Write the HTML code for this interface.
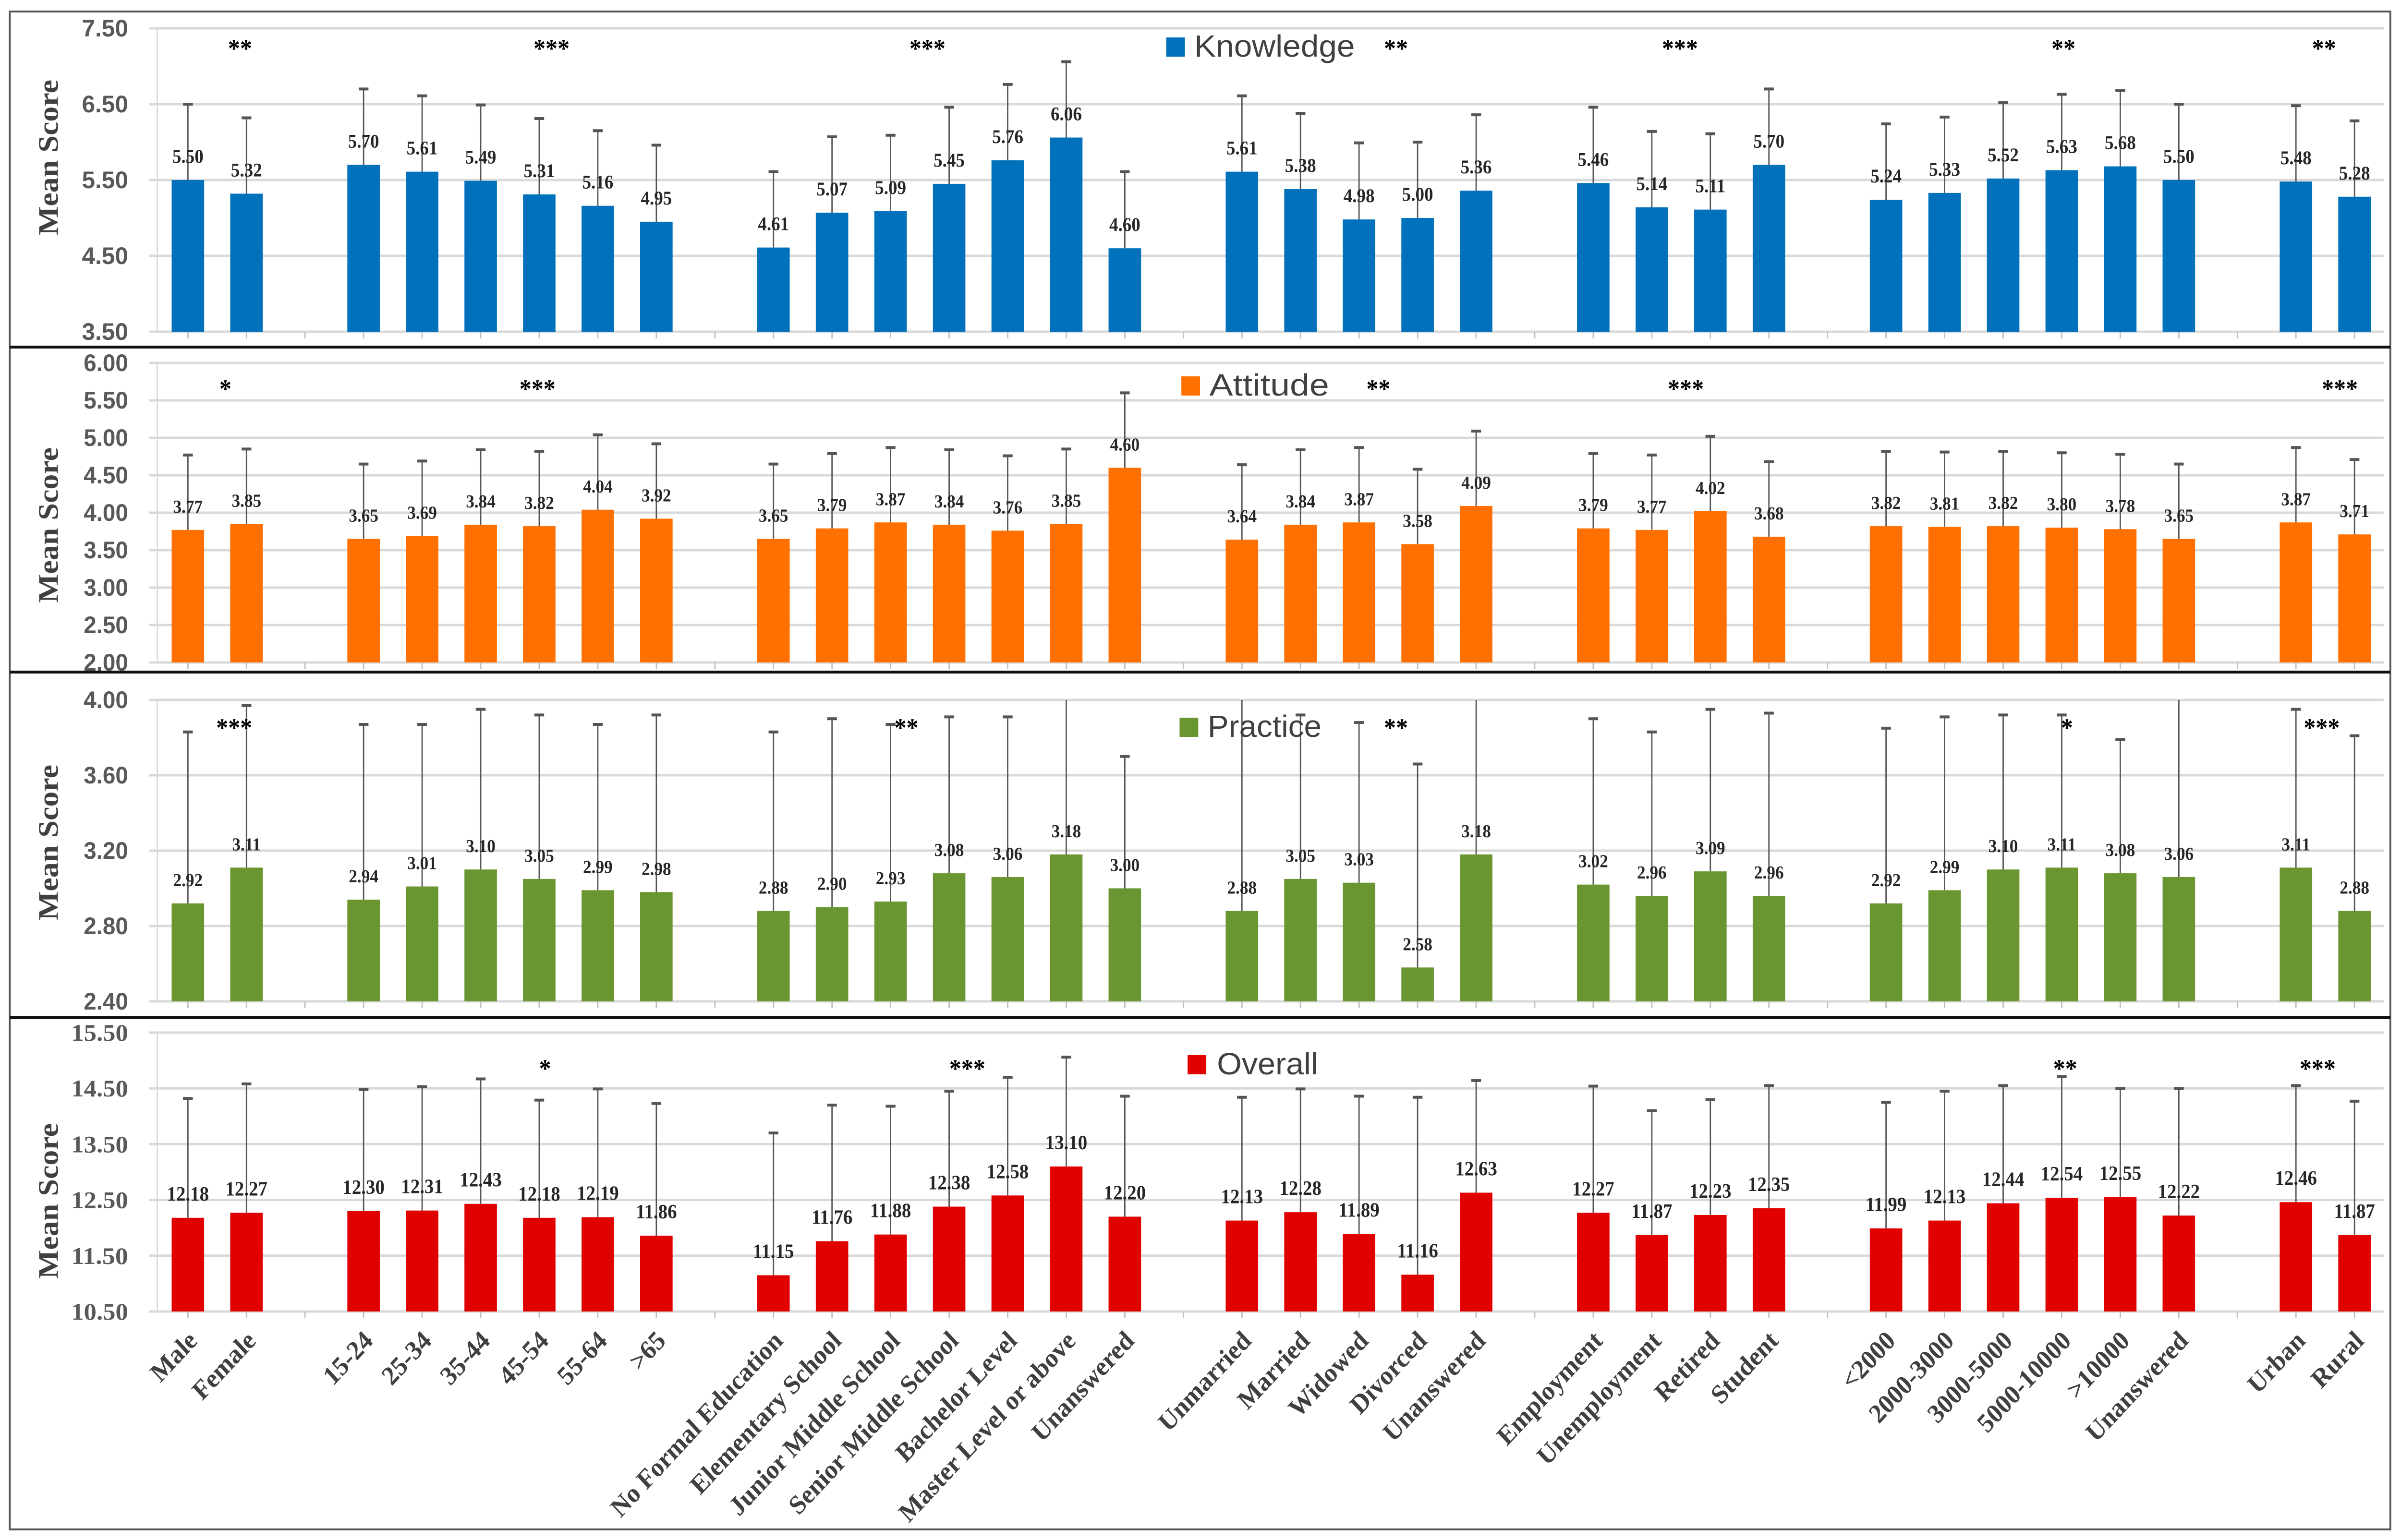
<!DOCTYPE html>
<html><head><meta charset="utf-8"><style>
html,body{margin:0;padding:0;background:#fff;width:100%;height:100%;overflow:hidden;}
svg{display:block;width:100vw;height:100vh;position:fixed;left:0;top:0;}
</style></head><body>
<svg id="chart" xmlns="http://www.w3.org/2000/svg" viewBox="0 0 5396 3208" preserveAspectRatio="none">
<rect x="0" y="0" width="5396" height="3208" fill="#fff"/>
<g id="root"></g>
</svg>
<script>
const groups = [
  ["Male","Female"],
  ["15-24","25-34","35-44","45-54","55-64",">65"],
  ["No Formal Education","Elementary School","Junior Middle School","Senior Middle School","Bachelor Level","Master Level or above","Unanswered"],
  ["Unmarried","Married","Widowed","Divorced","Unanswered"],
  ["Employment","Unemployment","Retired","Student"],
  ["<2000","2000-3000","3000-5000","5000-10000",">10000","Unanswered"],
  ["Urban","Rural"]
];
const knowledgeMeans = [5.50,5.32, 5.70,5.61,5.49,5.31,5.16,4.95, 4.61,5.07,5.09,5.45,5.76,6.06,4.60, 5.61,5.38,4.98,5.00,5.36, 5.46,5.14,5.11,5.70, 5.24,5.33,5.52,5.63,5.68,5.50, 5.48,5.28];
const knowledgeSd = [1.00,1.00, 1.00,1.00,1.00,1.00,0.99,1.01, 1.00,1.00,1.00,1.01,1.00,1.00,1.01, 1.00,1.00,1.01,1.00,1.00, 1.00,1.00,1.00,1.00, 1.00,1.00,1.00,1.00,1.00,1.00, 1.00,1.00];
const attitudeMeans = [3.77,3.85, 3.65,3.69,3.84,3.82,4.04,3.92, 3.65,3.79,3.87,3.84,3.76,3.85,4.60, 3.64,3.84,3.87,3.58,4.09, 3.79,3.77,4.02,3.68, 3.82,3.81,3.82,3.80,3.78,3.65, 3.87,3.71];
const attitudeSd = [1.00,1.00, 1.00,1.00,1.00,1.00,1.00,1.00, 1.00,1.00,1.00,1.00,1.00,1.00,1.00, 1.00,1.00,1.00,1.00,1.00, 1.00,1.00,1.00,1.00, 1.00,1.00,1.00,1.00,1.00,1.00, 1.00,1.00];
const practiceMeans = [2.92,3.11, 2.94,3.01,3.10,3.05,2.99,2.98, 2.88,2.90,2.93,3.08,3.06,3.18,3.00, 2.88,3.05,3.03,2.58,3.18, 3.02,2.96,3.09,2.96, 2.92,2.99,3.10,3.11,3.08,3.06, 3.11,2.88];
const practiceSd = [0.91,0.86, 0.93,0.86,0.85,0.87,0.88,0.94, 0.95,1.00,0.94,0.83,0.85,1.02,0.70, 1.22,0.87,0.85,1.08,1.02, 0.88,0.87,0.86,0.97, 0.93,0.92,0.82,0.81,0.71,1.04, 0.84,0.93];
const overallMeans = [12.18,12.27, 12.30,12.31,12.43,12.18,12.19,11.86, 11.15,11.76,11.88,12.38,12.58,13.10,12.20, 12.13,12.28,11.89,11.16,12.63, 12.27,11.87,12.23,12.35, 11.99,12.13,12.44,12.54,12.55,12.22, 12.46,11.87];
const overallSd = [2.14,2.31, 2.18,2.22,2.24,2.11,2.30,2.37, 2.55,2.44,2.30,2.07,2.12,1.96,2.16, 2.21,2.21,2.47,3.18,2.01, 2.27,2.23,2.07,2.20, 2.26,2.32,2.11,2.17,1.95,2.28, 2.09,2.40];
const knowledgeTicks = ["3.50","4.50","5.50","6.50","7.50"];
const attitudeTicks = ["2.00","2.50","3.00","3.50","4.00","4.50","5.00","5.50","6.00"];
const practiceTicks = ["2.40","2.80","3.20","3.60","4.00"];
const overallTicks = ["10.50","11.50","12.50","13.50","14.50","15.50"];
const knowledgeStars = [[0.89,"**"],[6.21,"***"],[12.63,"***"],[20.63,"**"],[25.48,"***"],[32.03,"**"],[36.48,"**"]];
const attitudeStars = [[0.64,"*"],[5.97,"***"],[20.33,"**"],[25.58,"***"],[36.75,"***"]];
const practiceStars = [[0.79,"***"],[12.27,"**"],[20.63,"**"],[32.09,"*"],[36.44,"***"]];
const overallStars = [[6.1,"*"],[13.31,"***"],[32.06,"**"],[36.37,"***"]];

const NS = "http://www.w3.org/2000/svg";
const root = document.getElementById('root');
function mk(tag, attrs, parent, text){
  const e = document.createElementNS(NS, tag);
  for (const k in attrs) e.setAttribute(k, attrs[k]);
  if (text !== undefined) e.textContent = text;
  (parent || root).appendChild(e);
  return e;
}
const slots = [];
let s = 0;
groups.forEach((g, gi) => { g.forEach(c => { slots.push({slot: s, label: c}); s++; }); if (gi < groups.length - 1) s++; });
const NSLOT = s;
const X0 = 356.5, SW = 131.6;
const xOf = i => X0 + (i + 0.5) * SW;

const panels = [
  {name:"knowledge", title:"Knowledge", color:"#0071BA", means:knowledgeMeans, sd:knowledgeSd, ticks:knowledgeTicks, stars:knowledgeStars,
   top:59, bot:691, tickFont:"Liberation Sans", tickW:104, legend:[2621,78,2684,3045], starY:[97], titleY:328, labSize:40},
  {name:"attitude", title:"Attitude", color:"#FF7000", means:attitudeMeans, sd:attitudeSd, ticks:attitudeTicks, stars:attitudeStars,
   top:756, bot:1380, tickFont:"Liberation Sans", tickW:100, legend:[2655,784,2718,2987], starY:[806], titleY:1094, labSize:38},
  {name:"practice", title:"Practice", color:"#6A9632", means:practiceMeans, sd:practiceSd, ticks:practiceTicks, stars:practiceStars,
   top:1458, bot:2086, tickFont:"Liberation Sans", tickW:100, legend:[2651,1495,2714,2970], starY:[1512], titleY:1755, labSize:38},
  {name:"overall", title:"Overall", color:"#E00000", means:overallMeans, sd:overallSd, ticks:overallTicks, stars:overallStars,
   top:2151, bot:2732, tickFont:"Liberation Serif", tickW:128, legend:[2669,2198,2735,2962], starY:[2222], titleY:2502, labSize:42}
];

mk('rect',{x:22,y:24,width:5350,height:3162,fill:'none',stroke:'#555','stroke-width':4,});
[723,1400,2120].forEach((y,i)=>{
  const l = mk('line',{x1:22,y1:y,x2:5372,y2:y,stroke:'#111','stroke-width':6});
  
  
});

panels.forEach((p, pi) => {
  const g = mk('g',{});
  
  
  const vmin = parseFloat(p.ticks[0]), vmax = parseFloat(p.ticks[p.ticks.length-1]);
  const yOf = v => p.bot - (v - vmin) / (vmax - vmin) * (p.bot - p.top);
  const cid = 'clip' + pi;
  const cp = mk('clipPath',{id:cid}, g);
  mk('rect',{x:X0,y:p.top,width:NSLOT*SW,height:p.bot-p.top}, cp);
  const pb = mk('line',{x1:X0-3,y1:p.top,x2:X0-3,y2:p.bot,stroke:'#d9d9d9','stroke-width':3}, g);
  
  
  p.ticks.forEach(t => {
    const v = parseFloat(t), y = yOf(v);
    const gl = mk('line',{x1:X0-22,y1:y,x2:X0+NSLOT*SW,y2:y,stroke:'#d9d9d9','stroke-width':5}, g);
    
    
    const tl = mk('text',{x:288,y:y+17,'text-anchor':'end','font-family':p.tickFont+', sans-serif','font-size':50,'font-weight':'bold',fill:'#595959',textLength:p.tickW,lengthAdjust:'spacingAndGlyphs'}, g, t);
    
    
  });
  for (let i = 0; i < NSLOT; i++) {
    const tk = mk('line',{x1:xOf(i),y1:p.bot,x2:xOf(i),y2:p.bot+14,stroke:'#bfbfbf','stroke-width':3}, g);
    
    
  }
  slots.forEach((sl, i) => {
    const m = p.means[i], cx = xOf(sl.slot), yt = yOf(m);
    const b = mk('rect',{x:cx-36.5,y:yt,width:73,height:p.bot-yt,fill:p.color}, g);
    
    
    const ye = yOf(m + p.sd[i]);
    const eg = mk('g',{'clip-path':'url(#'+cid+')'}, g);
    
    
    mk('line',{x1:cx,y1:yt,x2:cx,y2:ye,stroke:'#555','stroke-width':3}, eg);
    mk('line',{x1:cx-11,y1:ye,x2:cx+11,y2:ye,stroke:'#555','stroke-width':6}, eg);
    const vl = mk('text',{x:cx,y:yt-36,'text-anchor':'middle','font-family':'Liberation Serif, serif','font-size':p.labSize,'font-weight':'bold',fill:'#262626'}, g, m.toFixed(2));
    
    
  });
  p.stars.forEach(st => {
    const sx = xOf(st[0]);
    const t = mk('text',{x:sx,y:p.starY[0]+22,'text-anchor':'middle','font-family':'Liberation Serif, serif','font-size':54,'font-weight':'bold',fill:'#000'}, g, st[1]);
    
    
  });
  const L = p.legend;
  const lg = mk('g',{}, g);
  
  
  mk('rect',{x:L[0],y:L[1],width:42,height:40,fill:p.color}, lg);
  mk('text',{x:L[2],y:L[1]+40,'font-family':'Liberation Sans, sans-serif','font-size':64,fill:'#404040',textLength:L[3]-L[2],lengthAdjust:'spacingAndGlyphs'}, lg, p.title);
  const yt2 = mk('text',{x:0,y:0,transform:'translate(130,'+p.titleY+') rotate(-90)','text-anchor':'middle','font-family':'Liberation Serif, serif','font-size':64,'font-weight':'bold',fill:'#404040'}, g, 'Mean Score');
  
  
});

slots.forEach(sl => {
  const cx = xOf(sl.slot);
  const t = mk('text',{x:0,y:0,transform:'translate('+(cx+10)+',2782) rotate(-45)','text-anchor':'end',dy:'0.35em','font-family':'Liberation Serif, serif','font-size':56,'font-weight':'bold',fill:'#404040'}, root, sl.label);
  
  
});
</script>
</body></html>
